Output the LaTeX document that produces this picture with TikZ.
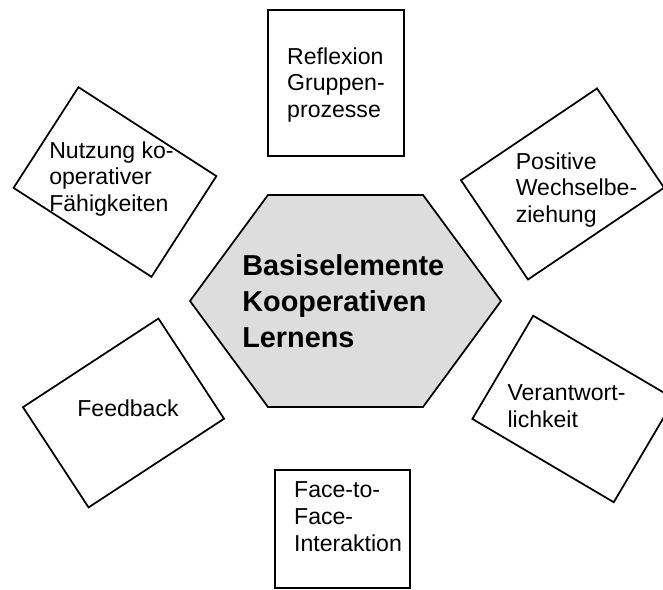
\documentclass[tikz,border=0pt]{standalone}
\usepackage{fontspec}
\setmainfont{Liberation Sans}
\definecolor{hexgray}{RGB}{221,221,221}
\tikzset{
  elembox/.style={draw, line width=0.9pt, minimum width=3cm, minimum height=2.19cm, inner sep=0pt},
  elemtext/.style={align=left, font=\fontsize{12}{14}\selectfont, inner sep=0pt},
}

\begin{document}
\begin{tikzpicture}
    \useasboundingbox (-6.316,-5.283) rectangle (5.804,5.502);
    % center hexagon
    \draw[line width=0.9pt, fill=hexgray] (-2.843,0) -- (-1.417,1.938) -- (1.417,1.938) -- (2.843,0) -- (1.417,-1.938) -- (-1.417,-1.938) -- cycle;
    \node[font=\fontsize{15}{18.6}\selectfont\bfseries, align=left, inner sep=0pt] (basis) at (-0.04,0) {Basiselemente\\Kooperativen\\Lernens};
    % the six elements
    \node[elembox, minimum width=2.486cm, minimum height=2.669cm] (reflexion) at (-0.174,3.985) {};
    \node[elembox, rotate=34] (positiv) at (3.967,2.139) {};
    \node[elembox, rotate=-30.5] (verantw) at (4.168,-1.974) {};
    \node[elembox, minimum width=2.468cm, minimum height=2.157cm] (face) at (-0.055,-4.168) {};
    \node[elembox, minimum width=2.96cm, rotate=33.2] (feedback) at (-4.058,-2.047) {};
    \node[elembox, rotate=-32.8] (nutzung) at (-4.214,2.175) {};
    \node[elemtext] (reflexiontext) at (-0.174,3.949) {Reflexion\\Gruppen-\\prozesse};
    \node[elemtext] (positivtext) at (4.223,2.029) {Positive\\Wechselbe-\\ziehung};
    \node[elemtext] (verantwtext) at (4.040,-1.919) {Verantwort-\\lichkeit};
    \node[elemtext] (facetext) at (0.046,-3.949) {Face-to-\\Face-\\Interaktion};
    \node[elemtext] (feedbacktext) at (-3.976,-1.965) {Feedback};
    \node[elemtext] (nutzungtext) at (-4.278,2.230) {Nutzung ko-\\operativer\\Fähigkeiten};
\end{tikzpicture}
\end{document}
